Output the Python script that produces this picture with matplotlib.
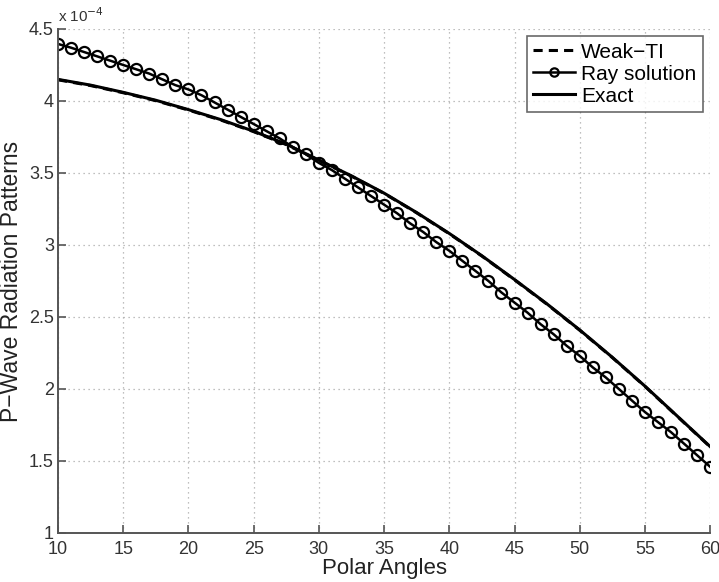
import numpy as np
import matplotlib
matplotlib.use("Agg")
import matplotlib.pyplot as plt

# values in units of 1e-4
ray_angles = list(range(10, 61))
ray_vals = [4.396, 4.37, 4.34, 4.31, 4.28, 4.25, 4.22, 4.19, 4.15, 4.11,
            4.08, 4.04, 3.99, 3.94, 3.89, 3.84, 3.79, 3.74, 3.68, 3.63,
            3.57, 3.52, 3.46, 3.40, 3.34, 3.28, 3.22, 3.15, 3.09, 3.02,
            2.96, 2.89, 2.82, 2.75, 2.67, 2.60, 2.53, 2.45, 2.38, 2.30,
            2.23, 2.15, 2.08, 2.00, 1.92, 1.84, 1.77, 1.70, 1.62, 1.54,
            1.46]

exact_angles = [10, 12.5, 15, 17.5, 20, 22.5, 25, 27.5, 30, 32.5, 35,
                37.5, 40, 42.5, 45, 47.5, 50, 52.5, 55, 57.5, 60]
exact_vals = [4.15, 4.11, 4.06, 4.005, 3.94, 3.87, 3.79, 3.70, 3.59, 3.48, 3.36,
              3.225, 3.08, 2.925, 2.76, 2.59, 2.41, 2.22, 2.02, 1.81, 1.60]
weak_vals = [4.147, 4.107, 4.057, 4.002, 3.937, 3.867, 3.787, 3.697, 3.588, 3.478, 3.358,
             3.223, 3.078, 2.923, 2.758, 2.588, 2.408, 2.218, 2.018, 1.808, 1.598]

xticks = [10, 15, 20, 25, 30, 35, 40, 45, 50, 55, 60]
yticks = [1, 1.5, 2, 2.5, 3, 3.5, 4, 4.5]
ytick_labels = ["1", "1.5", "2", "2.5", "3", "3.5", "4", "4.5"]

plt.rcParams['font.family'] = ['Liberation Sans', 'DejaVu Sans']
axcol = '#555555'

fig = plt.figure(figsize=(7.19, 5.82), dpi=100)
ax = fig.add_axes([0.0807, 0.0842, 0.907, 0.866])

ax.plot(exact_angles, weak_vals, color='black', lw=2.2, ls=(0, (3, 2)), label='Weak\u2212TI')
ax.plot(ray_angles, ray_vals, color='black', lw=1.8, marker='o', ms=8,
        mfc='none', mec='black', mew=1.6, label='Ray solution')
ax.plot(exact_angles, exact_vals, color='black', lw=2.2, label='Exact')

ax.set_xlim(10, 60)
ax.set_ylim(1, 4.5)
ax.set_xticks(xticks)
ax.set_yticks(yticks)
ax.set_yticklabels(ytick_labels)

ax.grid(True, ls=(0, (1, 3)), color='#aaaaaa', lw=0.9)
for s in ['top', 'right']:
    ax.spines[s].set_visible(False)
for s in ['left', 'bottom']:
    ax.spines[s].set_color(axcol)
    ax.spines[s].set_linewidth(1.4)
ax.tick_params(direction='in', length=6, width=1.2, color=axcol,
               labelsize=13, labelcolor='#333333', pad=3)
ax.tick_params(axis='x', pad=6)

ax.set_xlabel('Polar Angles', fontsize=16, color='#222222', labelpad=0)
ax.set_ylabel('P\u2212Wave Radiation Patterns', fontsize=16.5, color='#222222', labelpad=4)
ax.text(0.0, 1.008, 'x 10$^{-4}$', transform=ax.transAxes, fontsize=11,
        color='#333333', ha='left', va='bottom')

leg = ax.legend(loc='upper right', fontsize=15, frameon=True, fancybox=False,
                handlelength=2.0, borderpad=0.3, labelspacing=0.15,
                handletextpad=0.3, borderaxespad=0.35, markerscale=0.75)
leg.get_frame().set_edgecolor('#444444')
leg.get_frame().set_linewidth(1.2)

fig.savefig('out.png', dpi=100)
